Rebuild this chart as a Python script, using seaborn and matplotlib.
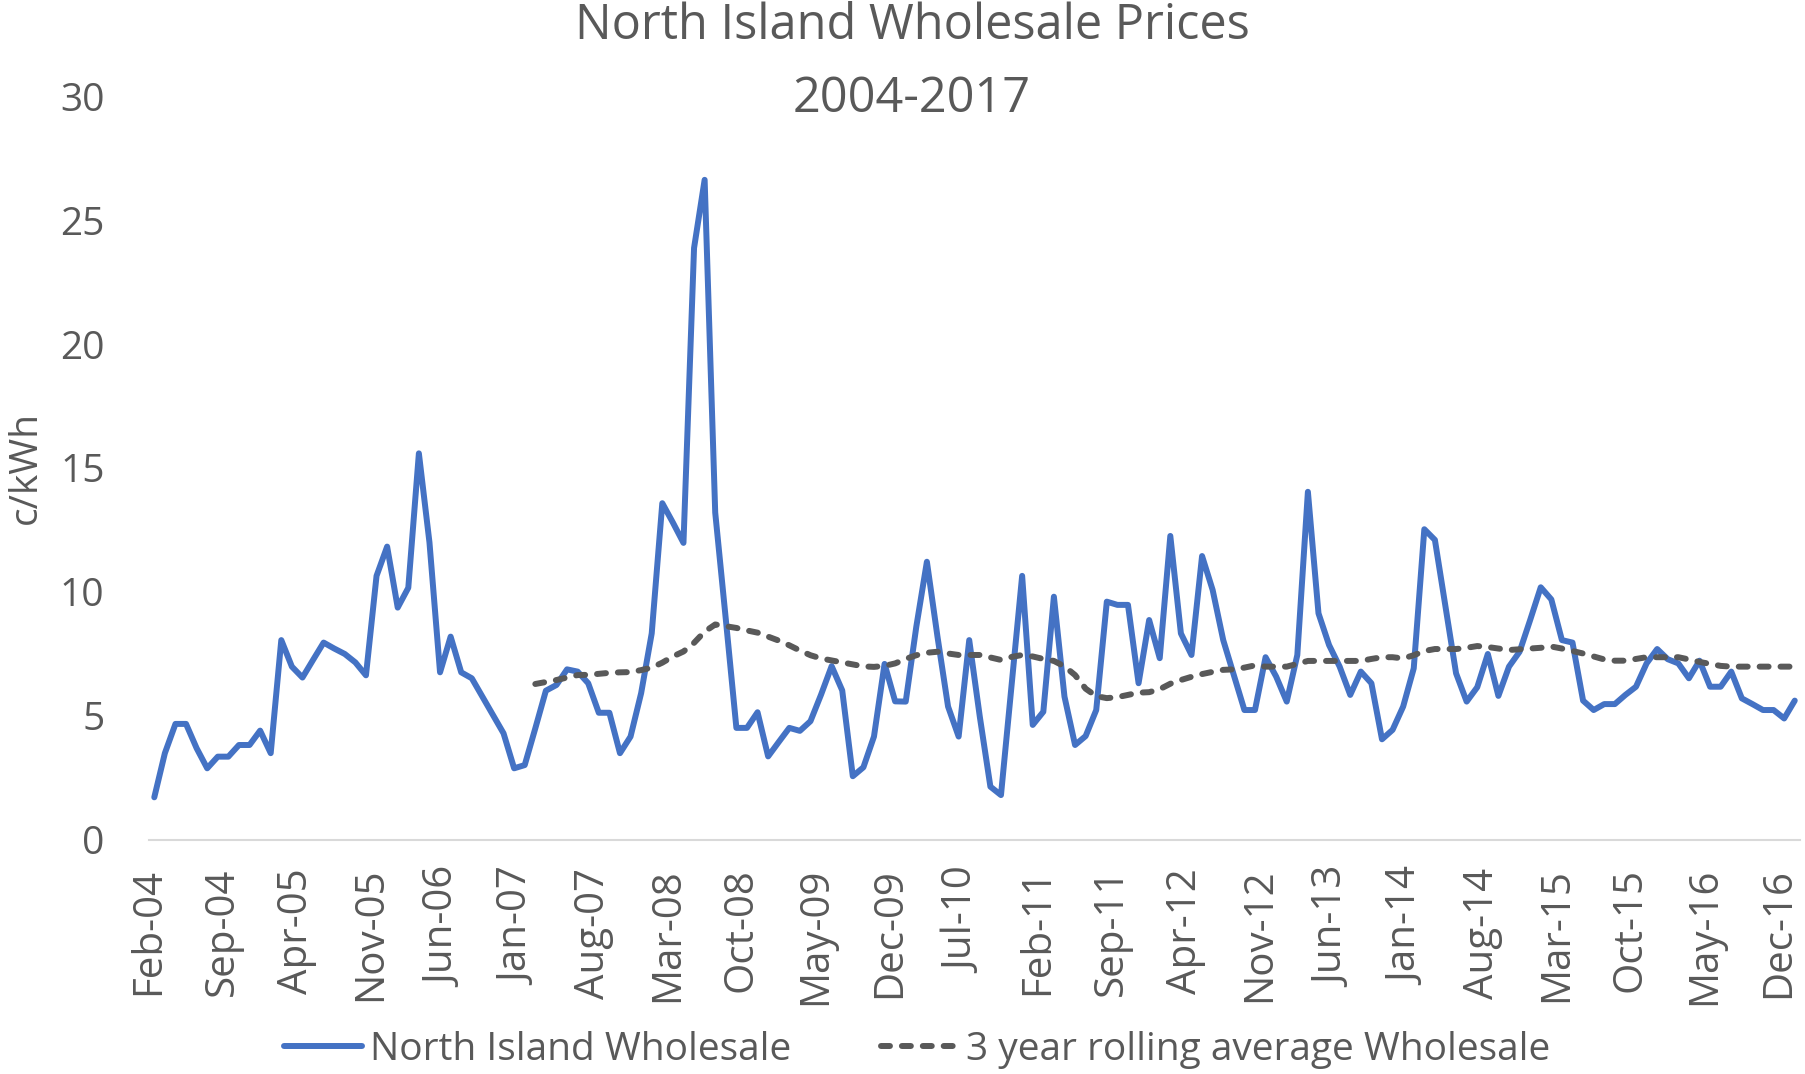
import numpy as np
import pandas as pd
import seaborn as sns
import matplotlib.pyplot as plt

# Monthly North Island wholesale price, c/kWh (Feb-04 .. Jan-17)
wholesale = [
    1.72, 3.50, 4.68, 4.68, 3.70, 2.89, 3.36, 3.36, 3.83, 3.83, 4.41, 3.50,
    8.06, 6.99, 6.55, 7.26, 7.96, 7.72, 7.50, 7.16, 6.64, 10.65, 11.83, 9.37,
    10.17, 15.59, 12.00, 6.76, 8.20, 6.76, 6.52, 5.78, 5.04, 4.30, 2.89, 3.02,
    4.50, 6.02, 6.25, 6.88, 6.79, 6.32, 5.13, 5.13, 3.50, 4.17, 5.92, 8.33,
    13.58, 12.80, 11.98, 23.87, 26.62, 13.20, 8.90, 4.52, 4.52, 5.15, 3.37, 3.95,
    4.52, 4.40, 4.79, 5.86, 7.01, 6.03, 2.57, 2.93, 4.17, 7.10, 5.59, 5.58,
    8.60, 11.22, 8.20, 5.38, 4.17, 8.06, 4.97, 2.15, 1.81, 6.24, 10.65, 4.64,
    5.17, 9.81, 5.78, 3.83, 4.19, 5.24, 9.61, 9.48, 9.48, 6.32, 8.87, 7.33,
    12.26, 8.33, 7.46, 11.45, 10.08, 8.06, 6.65, 5.24, 5.24, 7.37, 6.59, 5.58,
    7.46, 14.04, 9.14, 7.86, 6.99, 5.85, 6.79, 6.32, 4.06, 4.44, 5.38, 6.92,
    12.53, 12.10, 9.41, 6.72, 5.58, 6.16, 7.50, 5.81, 6.99, 7.59, 8.87, 10.19,
    9.70, 8.06, 7.96, 5.62, 5.24, 5.48, 5.48, 5.85, 6.18, 7.12, 7.70, 7.29,
    7.12, 6.52, 7.23, 6.18, 6.18, 6.79, 5.71, 5.48, 5.24, 5.24, 4.90, 5.62,
]

# 3 year rolling average, starts at Feb-07 (month 36)
roll_start = 36
rolling_avg = [
    6.29, 6.37, 6.45, 6.55, 6.65, 6.66, 6.70, 6.74, 6.76, 6.77, 6.85, 6.95,
    7.15, 7.40, 7.60, 7.95, 8.40, 8.69, 8.62, 8.55, 8.45, 8.36, 8.20, 8.04,
    7.85, 7.64, 7.45, 7.32, 7.24, 7.16, 7.08, 7.00, 6.98, 7.02, 7.12, 7.30,
    7.45, 7.55, 7.59, 7.52, 7.46, 7.46, 7.46, 7.36, 7.26, 7.38, 7.46, 7.40,
    7.30, 7.22, 7.00, 6.65, 6.10, 5.80, 5.72, 5.76, 5.85, 5.94, 5.96, 6.08,
    6.30, 6.45, 6.58, 6.69, 6.78, 6.86, 6.88, 6.95, 7.04, 6.99, 6.99, 6.99,
    7.10, 7.22, 7.22, 7.22, 7.22, 7.22, 7.22, 7.30, 7.37, 7.37, 7.32, 7.45,
    7.62, 7.70, 7.70, 7.70, 7.75, 7.82, 7.78, 7.72, 7.66, 7.69, 7.72, 7.75,
    7.80, 7.72, 7.62, 7.52, 7.40, 7.28, 7.23, 7.23, 7.30, 7.37, 7.37, 7.37,
    7.37, 7.28, 7.18, 7.10, 7.02, 6.99, 6.99, 6.99, 6.99, 6.99, 6.99, 6.99,
]

tick_labels = ["Feb-04", "Sep-04", "Apr-05", "Nov-05", "Jun-06", "Jan-07",
               "Aug-07", "Mar-08", "Oct-08", "May-09", "Dec-09", "Jul-10",
               "Feb-11", "Sep-11", "Apr-12", "Nov-12", "Jun-13", "Jan-14",
               "Aug-14", "Mar-15", "Oct-15", "May-16", "Dec-16"]

blue = "#4472C4"
grey = "#595959"
axis_grey = "#D9D9D9"

sns.set_style("white")
plt.rcParams['font.family'] = ['Open Sans', 'DejaVu Sans']

df = pd.DataFrame({"month": np.arange(len(wholesale)) + 0.5, "price": wholesale})
roll = pd.DataFrame({"month": np.arange(roll_start, roll_start + len(rolling_avg)) + 0.5,
                     "avg": rolling_avg})

fig = plt.figure(figsize=(18.06, 10.74), dpi=100)
ax = fig.add_axes([0.0825, 0.2179, 0.9142, 0.6927])

sns.lineplot(data=df, x="month", y="price", ax=ax, color=blue, lw=4.3,
             solid_joinstyle="round", label="North Island Wholesale")
sns.lineplot(data=roll, x="month", y="avg", ax=ax, color=grey, lw=4.3,
             linestyle=(0, (1.5, 2.0)), dash_capstyle="round",
             label="3 year rolling average Wholesale")

ax.set_xlim(0, 156)
ax.set_ylim(0, 30)
ax.set_yticks(range(0, 31, 5))
ax.set_xticks(np.arange(0, 155, 7))
ax.set_xticklabels(tick_labels, rotation=90)

sns.despine(ax=ax, left=True)
ax.spines["bottom"].set_color(axis_grey)
ax.spines["bottom"].set_linewidth(1.5)
ax.tick_params(axis="x", direction="out", length=10, width=1.5, color=axis_grey,
               labelsize=29, labelcolor=grey, pad=10)
ax.tick_params(axis="y", length=0, labelsize=28, labelcolor=grey, pad=32)

ax.set_xlabel("")
ax.set_ylabel("c/kWh", fontsize=28, color=grey)
ax.yaxis.set_label_coords(-0.063, 0.5)

# two-line title
fig.text(0.505, 1 - 39 / 1074, "North Island Wholesale Prices", ha="center",
         va="baseline", fontsize=35, color=grey)
fig.text(0.505, 1 - 112 / 1074, "2004-2017", ha="center", va="baseline",
         fontsize=35, color=grey)

handles, labels = ax.get_legend_handles_labels()
ax.get_legend().remove()
fig.legend(handles, labels, loc="center", bbox_to_anchor=(0.508, 0.0223), ncol=2,
           frameon=False, fontsize=28, labelcolor=grey, handlelength=2.0,
           handletextpad=0.2, columnspacing=2.3)

fig.savefig("out.png", dpi=100)
